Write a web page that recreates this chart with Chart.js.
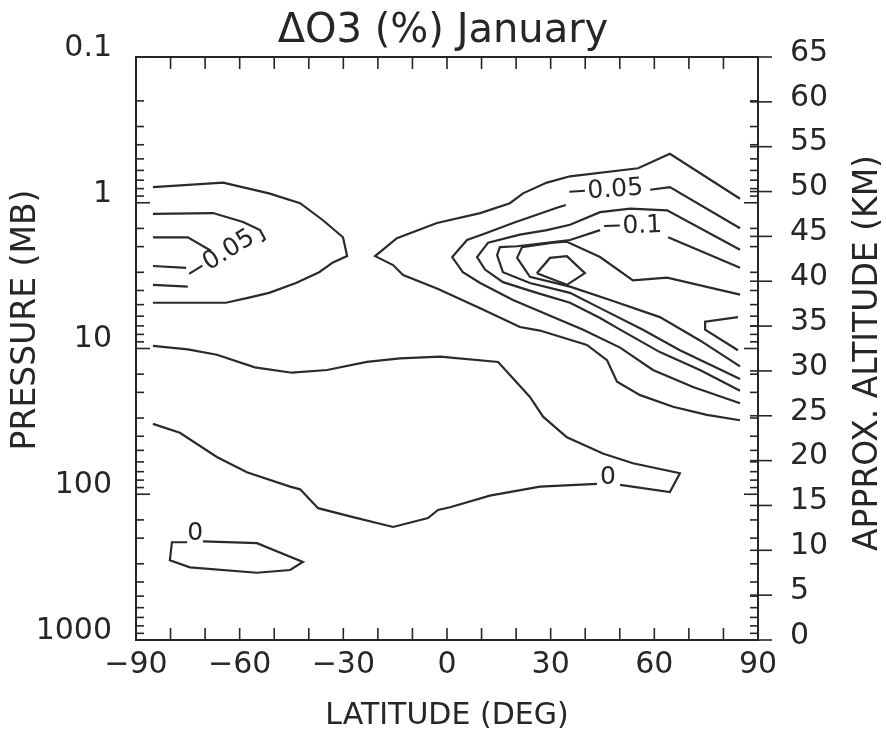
<!DOCTYPE html>
<html>
<head>
<meta charset="utf-8">
<script src="https://cdn.jsdelivr.net/npm/chart.js@4.4.1/dist/chart.umd.min.js"></script>
<style>
  html, body { margin: 0; padding: 0; background: #fff; }
  #wrap { width: 886px; height: 738px; }
</style>
</head>
<body>
<div id="wrap"><canvas id="chart"></canvas></div>
<script>
// contour lines: [latitude (deg), approx. altitude (km)]
const southOuter = [[-85.1,50.5],[-64.8,51.0],[-51.5,49.8],[-42.5,48.7],[-35.9,46.8],[-30.1,44.9],[-28.9,42.8],[-33.0,42.1],[-37.0,41.0],[-43.7,39.8],[-51.5,38.7],[-57.0,38.2],[-64.0,37.6],[-85.1,37.6]];
const southMidTop = [[-85.1,47.5],[-67.7,47.6],[-59.0,46.6],[-54.1,45.7],[-52.7,44.7],[-53.5,44.4]];
const southMidBottom = [[-75.5,41.5],[-85.1,41.7]];
const southInnerTop = [[-85.1,44.9],[-75.0,44.9],[-68.3,43.4]];
const southInnerBottom = [[-85.1,39.6],[-75.0,39.4]];

const north1 = [[84.8,49.2],[64.5,54.2],[55.3,52.6],[35.6,51.7],[28.9,51.0],[22.0,49.8],[18.2,48.7],[9.6,47.6],[-2.9,46.5],[-14.5,44.8],[-20.8,42.8],
  [-15.6,41.8],[-12.7,40.7],[-2.9,39.2],[9.6,37.0],[21.1,34.9],[26.9,34.5],[40.5,32.9],[46.3,31.2],[49.2,28.8],[55.9,27.3],[65.4,26.0],[75.2,25.1],[84.8,24.5]];
const north2a = [[84.8,45.9],[64.5,50.5],[58.8,50.2]];
const north2b = [[34.4,48.5],[31.8,48.2],[19.1,46.5],[11.6,45.4],[5.8,44.6],[1.5,42.7],[4.6,41.0],[9.6,39.8],[19.1,37.9],[30.7,36.0],[39.4,34.6],[50.1,32.6],[59.6,30.1],[71.2,28.2],[84.8,26.4]];
const north3 = [[84.8,43.5],[63.7,47.9],[53.0,48.1],[44.3,47.7],[35.6,46.3],[28.9,45.7],[21.1,45.2],[11.9,44.3],[8.7,42.7],[11.0,41.3],[16.2,39.9],[26.0,38.7],[35.6,37.6],[44.3,35.9],[50.1,34.6],[61.6,32.1],[73.2,30.1],[84.8,27.8]];
const north4a = [[84.8,41.5],[64.0,44.9]];
const north4b = [[44.3,45.7],[35.6,44.6],[20.3,43.9],[15.3,43.8],[14.5,42.9],[16.2,41.0],[24.0,39.8],[35.6,38.7],[44.3,37.0],[56.7,34.6],[67.4,32.3],[84.8,29.1]];
const north5 = [[84.8,38.5],[63.7,40.4],[53.8,40.1],[44.3,42.7],[34.7,44.4],[30.7,44.3],[21.7,43.8],[20.3,42.6],[24.0,40.5],[35.6,39.4],[47.2,37.9],[61.6,36.0],[73.2,33.4],[84.8,30.5]];
const northCore = [[26.0,40.9],[29.8,42.6],[34.7,42.8],[39.9,40.9],[34.7,39.6],[26.0,40.9]];
const northEdge = [[84.2,36.0],[74.7,35.5],[74.7,34.6],[84.2,32.3]];

const zeroBandA = [[-85.1,32.8],[-75.0,32.4],[-66.6,31.8],[-55.6,30.4],[-44.9,29.8],[-34.7,30.1],[-23.2,31.0],[-13.6,31.4],[-2.0,31.6],[14.8,31.0],[24.0,27.1],[27.8,24.9],[34.7,22.6],[45.1,20.8],[53.8,19.7],[67.4,18.6],[64.5,16.5],[50.1,17.3]];
const zeroBandB = [[43.4,17.4],[26.9,17.1],[12.4,16.1],[0.9,14.8],[-2.6,14.5],[-5.5,13.6],[-15.6,12.6],[-27.2,13.7],[-37.3,14.7],[-42.5,16.8],[-45.4,17.1],[-57.9,18.7],[-66.6,20.4],[-77.3,23.1],[-85.1,24.1]];
const zeroSouth = [[-70.6,11.0],[-55.0,10.8],[-41.7,8.7],[-45.4,7.8],[-55.0,7.5],[-74.4,8.1],[-80.2,8.9],[-79.6,10.9],[-75.2,10.9]];

// contour labels
const labelText = ['\u22120.05', '\u22120.05', '\u22120.1', '0', '0'];
const labelLat = [-65.7, 45.7, 53.5, 46.6, -72.9];
const labelAlt = [42.8, 50.1, 46.1, 18.1, 11.9];
const labelAngle = [-32, -4, -2, 0, 0];

// axes
const latTicks = [-80, -70, -60, -50, -40, -30, -20, -10, 0, 10, 20, 30, 40, 50, 60, 70, 80];
const pressureMin = 0.1, pressureMax = 1000;
const altMin = 0, altMax = 65, altStep = 5;

const FONT = "'DejaVu Sans', sans-serif";
const INK = '#262626';

const contours = [southOuter, southMidTop, southMidBottom, southInnerTop, southInnerBottom,
  north1, north2a, north2b, north3, north4a, north4b, north5, northCore, northEdge,
  zeroBandA, zeroBandB, zeroSouth];

const isDecade = v => Math.abs(Math.log10(v) - Math.round(Math.log10(v))) < 1e-6;

const frameTicks = {
  id: 'frameTicks',
  afterDraw(chart) {
    const { ctx, chartArea: a, scales: { x, y, yAlt } } = chart;
    const line = (x1, y1, x2, y2) => { ctx.beginPath(); ctx.moveTo(x1, y1); ctx.lineTo(x2, y2); ctx.stroke(); };
    ctx.save();
    ctx.strokeStyle = INK;
    ctx.lineWidth = 2;
    ctx.strokeRect(a.left, a.top, a.right - a.left, a.bottom - a.top);
    ctx.lineWidth = 1.6;
    latTicks.forEach(v => {
      const px = x.getPixelForValue(v);
      line(px, a.top, px, a.top + 12);
      line(px, a.bottom, px, a.bottom - 12);
    });
    y.ticks.forEach(t => {
      const py = y.getPixelForValue(t.value);
      const len = isDecade(t.value) ? 14 : 8;
      line(a.left, py, a.left + len, py);
      line(a.right, py, a.right - len, py);
    });
    yAlt.ticks.forEach(t => {
      const py = yAlt.getPixelForValue(t.value);
      line(a.right - 8, py, a.right + 14, py);
    });

    // contour labels
    ctx.fillStyle = INK;
    ctx.font = '25px ' + FONT;
    ctx.textAlign = 'center';
    ctx.textBaseline = 'middle';
    labelText.forEach((s, i) => {
      ctx.save();
      ctx.translate(x.getPixelForValue(labelLat[i]), yAlt.getPixelForValue(labelAlt[i]));
      ctx.rotate(labelAngle[i] * Math.PI / 180);
      ctx.fillText(s, 0, 0);
      ctx.restore();
    });

    // vertical axis titles, both read bottom to top
    ctx.font = '33px ' + FONT;
    ctx.save();
    ctx.translate(26, 320);
    ctx.rotate(-Math.PI / 2);
    ctx.fillText('PRESSURE (MB)', 0, 0);
    ctx.restore();
    ctx.save();
    ctx.translate(868, 353);
    ctx.rotate(-Math.PI / 2);
    ctx.fillText('APPROX. ALTITUDE (KM)', 0, 0);
    ctx.restore();
    ctx.restore();
  }
};

new Chart(document.getElementById('chart'), {
  type: 'line',
  data: {
    datasets: contours.map(c => ({
      data: c.map(p => ({ x: p[0], y: p[1] })),
      yAxisID: 'yAlt',
      borderColor: '#2a2a2a',
      borderWidth: 2.2,
      pointRadius: 0,
      tension: 0,
      fill: false
    }))
  },
  options: {
    responsive: true,
    maintainAspectRatio: false,
    animation: false,
    layout: { padding: 0 },
    plugins: {
      legend: { display: false },
      tooltip: { enabled: false },
      title: {
        display: true,
        text: '\u0394O3 (%) January',
        color: INK,
        font: { family: FONT, size: 40, weight: 'normal', lineHeight: 1.2 },
        padding: { top: 8, bottom: 1 }
      }
    },
    scales: {
      x: {
        type: 'linear',
        position: 'bottom',
        min: -90, max: 90,
        afterFit: s => { s.height = 98; },
        grid: { display: false, drawTicks: false },
        border: { display: false },
        ticks: {
          stepSize: 30, padding: 7, color: INK, font: { family: FONT, size: 30 },
          callback: v => v < 0 ? '\u2212' + Math.abs(v) : String(v)
        },
        title: { display: true, text: 'LATITUDE (DEG)', color: INK, font: { family: FONT, size: 30 }, padding: { top: 0, bottom: 4 } }
      },
      y: {
        type: 'logarithmic',
        position: 'left',
        reverse: true,
        min: pressureMin, max: pressureMax,
        afterFit: s => { s.width = 136; },
        grid: { display: false, drawTicks: false },
        border: { display: false },
        ticks: {
          autoSkip: false,
          padding: 24,
          labelOffset: -9,
          color: INK,
          font: { family: FONT, size: 30 },
          callback: v => isDecade(v) ? String(+v.toFixed(1)) : ''
        }
      },
      yAlt: {
        type: 'linear',
        position: 'right',
        min: altMin, max: altMax,
        afterFit: s => { s.width = 128; },
        grid: { display: false, drawTicks: false },
        border: { display: false },
        ticks: { stepSize: altStep, autoSkip: false, padding: 32, labelOffset: -4, color: INK, font: { family: FONT, size: 30 } }
      }
    }
  },
  plugins: [frameTicks]
});
</script>
</body>
</html>
